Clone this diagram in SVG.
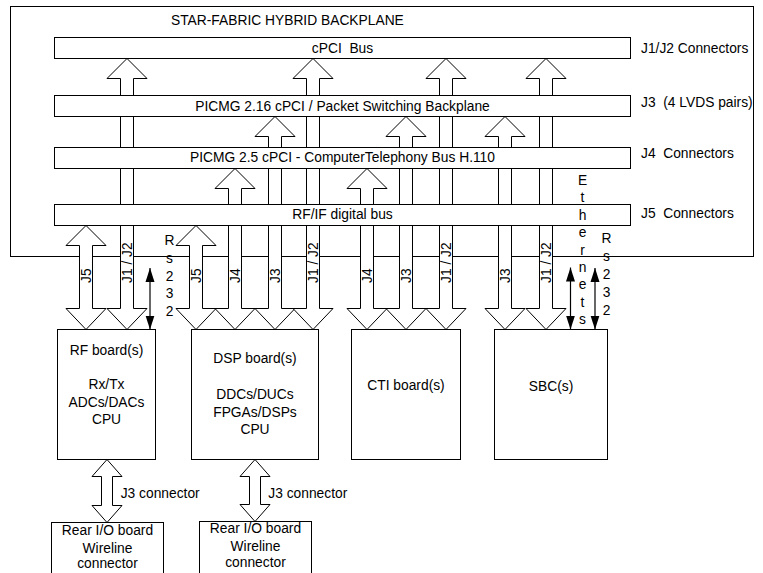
<svg xmlns="http://www.w3.org/2000/svg" width="763" height="573" viewBox="0 0 763 573">
<style>
text{font-family:"Liberation Sans",Arial,sans-serif;font-size:13.8px;fill:#000}
.m{text-anchor:middle}
.box{fill:#fff;stroke:#000;stroke-width:1}
.frame{fill:none;stroke:#000;stroke-width:1}
.arr{fill:#fff;stroke:#000;stroke-width:1;stroke-linejoin:miter}
.bl{stroke:#000;stroke-width:1.2;marker-start:url(#ah);marker-end:url(#ah)}
</style>
<defs>
<marker id="ah" markerUnits="userSpaceOnUse" markerWidth="14" markerHeight="10" refX="14" refY="5" orient="auto-start-reverse" viewBox="0 0 14 10">
<path d="M0,0.5 L14,5 L0,9.5 z" fill="#000"/>
</marker>
</defs>
<rect id="frame" class="frame" x="10.5" y="6.5" width="743" height="250"/>
<text x="171" y="25">STAR-FABRIC HYBRID BACKPLANE</text>
<g id="connectors">
<polygon class="arr" points="86,225.5 106,245.5 92.5,245.5 92.5,308.5 106,308.5 86,329.5 66,308.5 79.5,308.5 79.5,245.5 66,245.5"/>
<polygon class="arr" points="127,58.5 147,78.5 133.5,78.5 133.5,308.5 147,308.5 127,329.5 107,308.5 120.5,308.5 120.5,78.5 107,78.5"/>
<polygon class="arr" points="196,225.5 216,245.5 202.5,245.5 202.5,308.5 216,308.5 196,329.5 176,308.5 189.5,308.5 189.5,245.5 176,245.5"/>
<polygon class="arr" points="235,168.5 255,188.5 241.5,188.5 241.5,308.5 255,308.5 235,329.5 215,308.5 228.5,308.5 228.5,188.5 215,188.5"/>
<polygon class="arr" points="275,116.5 295,136.5 281.5,136.5 281.5,308.5 295,308.5 275,329.5 255,308.5 268.5,308.5 268.5,136.5 255,136.5"/>
<polygon class="arr" points="313,58.5 333,78.5 319.5,78.5 319.5,308.5 333,308.5 313,329.5 293,308.5 306.5,308.5 306.5,78.5 293,78.5"/>
<polygon class="arr" points="367,168.5 387,188.5 373.5,188.5 373.5,308.5 387,308.5 367,329.5 347,308.5 360.5,308.5 360.5,188.5 347,188.5"/>
<polygon class="arr" points="406,116.5 426,136.5 412.5,136.5 412.5,308.5 426,308.5 406,329.5 386,308.5 399.5,308.5 399.5,136.5 386,136.5"/>
<polygon class="arr" points="446,58.5 466,78.5 452.5,78.5 452.5,308.5 466,308.5 446,329.5 426,308.5 439.5,308.5 439.5,78.5 426,78.5"/>
<polygon class="arr" points="505,116.5 525,136.5 511.5,136.5 511.5,308.5 525,308.5 505,329.5 485,308.5 498.5,308.5 498.5,136.5 485,136.5"/>
<polygon class="arr" points="546,58.5 566,78.5 552.5,78.5 552.5,308.5 566,308.5 546,329.5 526,308.5 539.5,308.5 539.5,78.5 526,78.5"/>
<polygon class="arr" points="107,459.5 122,476.5 112.5,476.5 112.5,505.5 122,505.5 107,522.5 92,505.5 101.5,505.5 101.5,476.5 92,476.5"/>
<polygon class="arr" points="255,459.5 270,476.5 260.5,476.5 260.5,504.5 270,504.5 255,521.5 240,504.5 249.5,504.5 249.5,476.5 240,476.5"/>
<line class="bl" x1="150" y1="268" x2="150" y2="329.5"/>
<line class="bl" x1="570.5" y1="267.5" x2="570.5" y2="329.5"/>
<line class="bl" x1="595" y1="268" x2="595" y2="329.5"/>
<text transform="translate(91,283) rotate(-90)">J5</text>
<text transform="translate(132,283) rotate(-90)">J1 / J2</text>
<text transform="translate(201,283) rotate(-90)">J5</text>
<text transform="translate(240,283) rotate(-90)">J4</text>
<text transform="translate(280,283) rotate(-90)">J3</text>
<text transform="translate(318,283) rotate(-90)">J1 / J2</text>
<text transform="translate(372,283) rotate(-90)">J4</text>
<text transform="translate(411,283) rotate(-90)">J3</text>
<text transform="translate(451,283) rotate(-90)">J1 / J2</text>
<text transform="translate(510,283) rotate(-90)">J3</text>
<text transform="translate(551,283) rotate(-90)">J1 / J2</text>
<text x="120.7" y="498.3">J3 connector</text>
<text x="268.3" y="498.3">J3 connector</text>
</g>
<g id="bus-cpci">
<rect class="box" x="54.5" y="37.5" width="576" height="21"/>
<text class="m" x="342.5" y="53.3" xml:space="preserve">cPCI  Bus</text>
<text x="641" y="53.3">J1/J2 Connectors</text>
</g>
<g id="bus-216">
<rect class="box" x="54.5" y="95.5" width="576" height="21"/>
<text class="m" x="342.5" y="110.7">PICMG 2.16 cPCI / Packet Switching Backplane</text>
<text x="641" y="106.7" xml:space="preserve">J3  (4 LVDS pairs)</text>
</g>
<g id="bus-25">
<rect class="box" x="54.5" y="147.5" width="576" height="21"/>
<text class="m" x="342.5" y="162.3">PICMG 2.5 cPCI - ComputerTelephony Bus H.110</text>
<text x="641" y="158.3" xml:space="preserve">J4  Connectors</text>
</g>
<g id="bus-rfif">
<rect class="box" x="54.5" y="204.5" width="576" height="21"/>
<text class="m" x="342.5" y="219">RF/IF digital bus</text>
<text x="641" y="218.3" xml:space="preserve">J5  Connectors</text>
</g>
<g id="label-rs232-left">
<text class="m" x="169.5" y="245">R</text>
<text class="m" x="169.5" y="262.7">s</text>
<text class="m" x="169.5" y="280.5">2</text>
<text class="m" x="169.5" y="298.2">3</text>
<text class="m" x="169.5" y="316">2</text>
</g>
<g id="label-ethernets">
<text class="m" x="582.5" y="185">E</text>
<text class="m" x="582.5" y="202.4">t</text>
<text class="m" x="582.5" y="219.8">h</text>
<text class="m" x="582.5" y="237.2">e</text>
<text class="m" x="582.5" y="254.6">r</text>
<text class="m" x="582.5" y="272">n</text>
<text class="m" x="582.5" y="289.4">e</text>
<text class="m" x="582.5" y="306.8">t</text>
<text class="m" x="582.5" y="324.2">s</text>
</g>
<g id="label-rs232-right">
<text class="m" x="606.5" y="243.3">R</text>
<text class="m" x="606.5" y="261.2">s</text>
<text class="m" x="606.5" y="279">2</text>
<text class="m" x="606.5" y="296.9">3</text>
<text class="m" x="606.5" y="314.8">2</text>
</g>
<g id="rf-board">
<rect class="box" x="57.5" y="329.5" width="98" height="130"/>
<text class="m" x="106.5" y="355">RF board(s)</text>
<text class="m" x="106.5" y="389">Rx/Tx</text>
<text class="m" x="106.5" y="406.5">ADCs/DACs</text>
<text class="m" x="106.5" y="424">CPU</text>
</g>
<g id="dsp-board">
<rect class="box" x="191.5" y="329.5" width="127" height="130"/>
<text class="m" x="255" y="363">DSP board(s)</text>
<text class="m" x="255" y="399">DDCs/DUCs</text>
<text class="m" x="255" y="416.5">FPGAs/DSPs</text>
<text class="m" x="255" y="434">CPU</text>
</g>
<g id="cti-board">
<rect class="box" x="351.5" y="329.5" width="109" height="130"/>
<text class="m" x="406" y="390">CTI board(s)</text>
</g>
<g id="sbc">
<rect class="box" x="494.5" y="329.5" width="113" height="130"/>
<text class="m" x="551" y="390.5">SBC(s)</text>
</g>
<g id="rear-io-1">
<rect class="box" x="51.5" y="522.5" width="112" height="60"/>
<text class="m" x="107.5" y="535">Rear I/O board</text>
<text class="m" x="107.5" y="552.7">Wireline</text>
<text class="m" x="107.5" y="568.3">connector</text>
</g>
<g id="rear-io-2">
<rect class="box" x="199.5" y="521.5" width="112" height="60"/>
<text class="m" x="255.5" y="533.3">Rear I/O board</text>
<text class="m" x="255.5" y="550.7">Wireline</text>
<text class="m" x="255.5" y="567">connector</text>
</g>
</svg>
